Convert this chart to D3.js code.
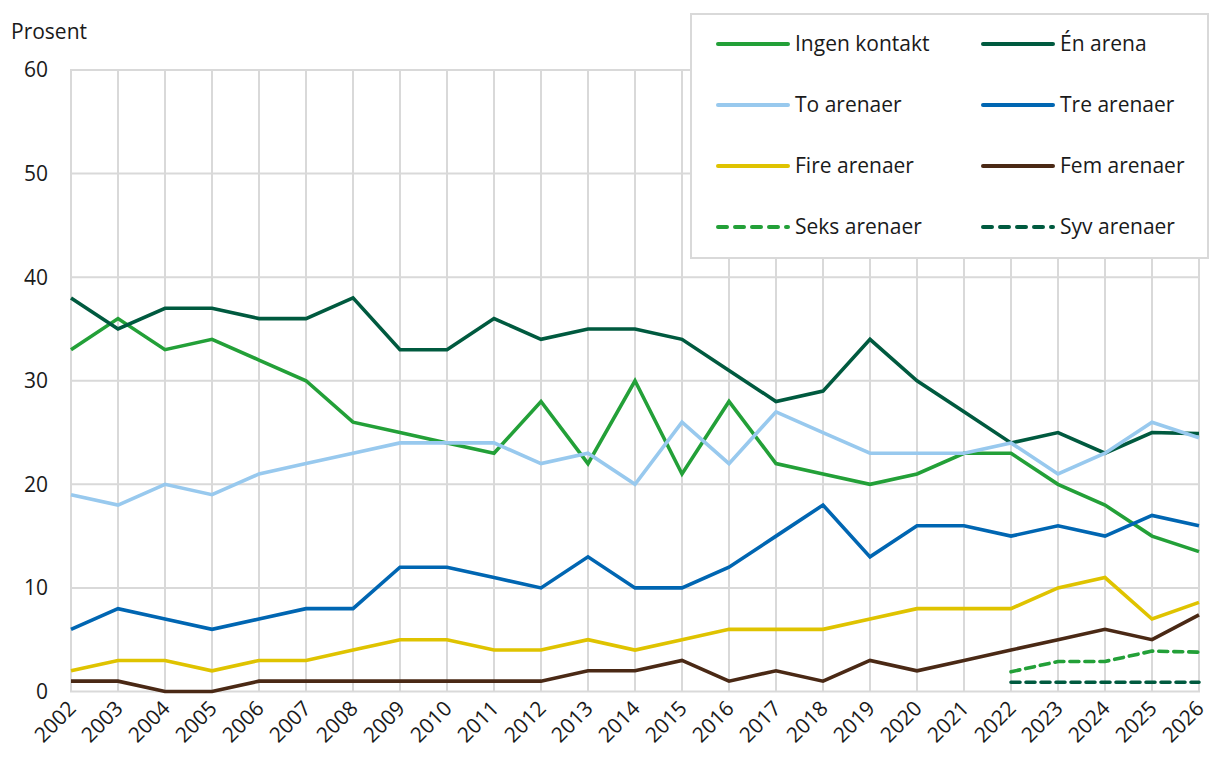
<!DOCTYPE html>
<html>
<head>
<meta charset="utf-8">
<script src="https://cdnjs.cloudflare.com/ajax/libs/d3/7.8.5/d3.min.js"></script>
<style>
    body { margin: 0; background: #fff; }
    svg { display: block; font-family: "Open Sans", "Noto Sans", sans-serif; }
    .grid line { stroke: #d9d9d9; stroke-width: 2px; }
    .tick-label { font-size: 21px; fill: #1a1a1a; }
    .series { fill: none; stroke-width: 3.6px; stroke-linejoin: miter; }
    .legend-text { font-size: 21px; fill: #1a1a1a; }
</style>
</head>
<body>
<div id="chart"></div>
<script>
const years = d3.range(2002, 2027);
const yTicks = [0, 10, 20, 30, 40, 50, 60];

const ingenKontakt = [33, 36, 33, 34, 32, 30, 26, 25, 24, 23, 28, 22, 30, 21, 28, 22, 21, 20, 21, 23, 23, 20, 18, 15, 13.5];
const enArena = [38, 35, 37, 37, 36, 36, 38, 33, 33, 36, 34, 35, 35, 34, 31, 28, 29, 34, 30, 27, 24, 25, 23, 25, 24.9];
const toArenaer = [19, 18, 20, 19, 21, 22, 23, 24, 24, 24, 22, 23, 20, 26, 22, 27, 25, 23, 23, 23, 24, 21, 23, 26, 24.5];
const treArenaer = [6, 8, 7, 6, 7, 8, 8, 12, 12, 11, 10, 13, 10, 10, 12, 15, 18, 13, 16, 16, 15, 16, 15, 17, 16];
const fireArenaer = [2, 3, 3, 2, 3, 3, 4, 5, 5, 4, 4, 5, 4, 5, 6, 6, 6, 7, 8, 8, 8, 10, 11, 7, 8.6];
const femArenaer = [1, 1, 0, 0, 1, 1, 1, 1, 1, 1, 1, 2, 2, 3, 1, 2, 1, 3, 2, 3, 4, 5, 6, 5, 7.4];
// only from 2022
const seksArenaer = [null, null, null, null, null, null, null, null, null, null, null, null, null, null, null, null, null, null, null, null, 1.9, 2.9, 2.9, 3.9, 3.8];
const syvArenaer = [null, null, null, null, null, null, null, null, null, null, null, null, null, null, null, null, null, null, null, null, 0.9, 0.9, 0.9, 0.9, 0.9];

const series = [
    { name: "Ingen kontakt", values: ingenKontakt, color: "#23a038", dash: null },
    { name: "Én arena", values: enArena, color: "#005a3f", dash: null },
    { name: "To arenaer", values: toArenaer, color: "#98c9ee", dash: null },
    { name: "Tre arenaer", values: treArenaer, color: "#0066b2", dash: null },
    { name: "Fire arenaer", values: fireArenaer, color: "#dfc300", dash: null },
    { name: "Fem arenaer", values: femArenaer, color: "#4a2915", dash: null },
    { name: "Seks arenaer", values: seksArenaer, color: "#23a038", dash: "9,6" },
    { name: "Syv arenaer", values: syvArenaer, color: "#005a3f", dash: "9,6" }
];

const width = 1211, height = 763;
const margin = { top: 70, right: 12, bottom: 71, left: 71 };

const svg = d3.select('#chart')
    .append('svg')
    .attr('width', width)
    .attr('height', height);

const x = d3.scaleLinear()
    .domain([2002, 2026])
    .range([margin.left, width - margin.right]);

const y = d3.scaleLinear()
    .domain([0, 60])
    .range([height - margin.bottom - 0.5, margin.top]);

// grid
const grid = svg.append('g').attr('class', 'grid');
grid.selectAll('line.v')
    .data(years)
    .join('line')
    .attr('class', 'v')
    .attr('x1', d => x(d)).attr('x2', d => x(d))
    .attr('y1', y(60)).attr('y2', y(0));
grid.selectAll('line.h')
    .data(yTicks)
    .join('line')
    .attr('class', 'h')
    .attr('x1', x(2002) - 1).attr('x2', x(2026) + 1)
    .attr('y1', d => y(d)).attr('y2', d => y(d));

// y labels
svg.append('g')
    .selectAll('text')
    .data(yTicks)
    .join('text')
    .attr('class', 'tick-label')
    .attr('x', 48)
    .attr('y', d => y(d))
    .attr('dy', '0.35em')
    .attr('text-anchor', 'end')
    .text(d => d);

svg.append('text')
    .attr('class', 'tick-label')
    .attr('x', 11)
    .attr('y', 39)
    .text('Prosent');

// x labels
svg.append('g')
    .selectAll('text')
    .data(years)
    .join('text')
    .attr('class', 'tick-label')
    .attr('text-anchor', 'end')
    .attr('transform', d => `translate(${x(d) + 1},${y(0) + 13}) rotate(-45)`)
    .attr('dy', '0.35em')
    .text(d => d);

// lines
const line = d3.line()
    .defined(d => d.v != null)
    .x(d => x(d.year))
    .y(d => y(d.v));

svg.append('g')
    .selectAll('path')
    .data(series)
    .join('path')
    .attr('class', 'series')
    .attr('stroke', d => d.color)
    .attr('stroke-dasharray', d => d.dash)
    .attr('stroke-linecap', d => d.dash ? 'round' : 'butt')
    .attr('d', d => line(d.values.map((v, i) => ({ year: years[i], v: v }))));

// legend
const legend = svg.append('g');
legend.append('rect')
    .attr('x', 691).attr('y', 14)
    .attr('width', 517).attr('height', 244)
    .attr('fill', '#fff')
    .attr('stroke', '#d9d9d9')
    .attr('stroke-width', 2);

const item = legend.selectAll('g.item')
    .data(series)
    .join('g')
    .attr('class', 'item')
    .attr('transform', (d, i) => `translate(${i % 2 === 0 ? 718 : 983},${44 + Math.floor(i / 2) * 61})`);

item.append('line')
    .attr('x1', 0).attr('x2', 70)
    .attr('stroke', d => d.color)
    .attr('stroke-width', 4)
    .attr('stroke-linecap', 'round')
    .attr('stroke-dasharray', d => d.dash ? '9,8' : null);

item.append('text')
    .attr('class', 'legend-text')
    .attr('x', 77)
    .attr('dy', '0.35em')
    .text(d => d.name);
</script>
</body>
</html>
